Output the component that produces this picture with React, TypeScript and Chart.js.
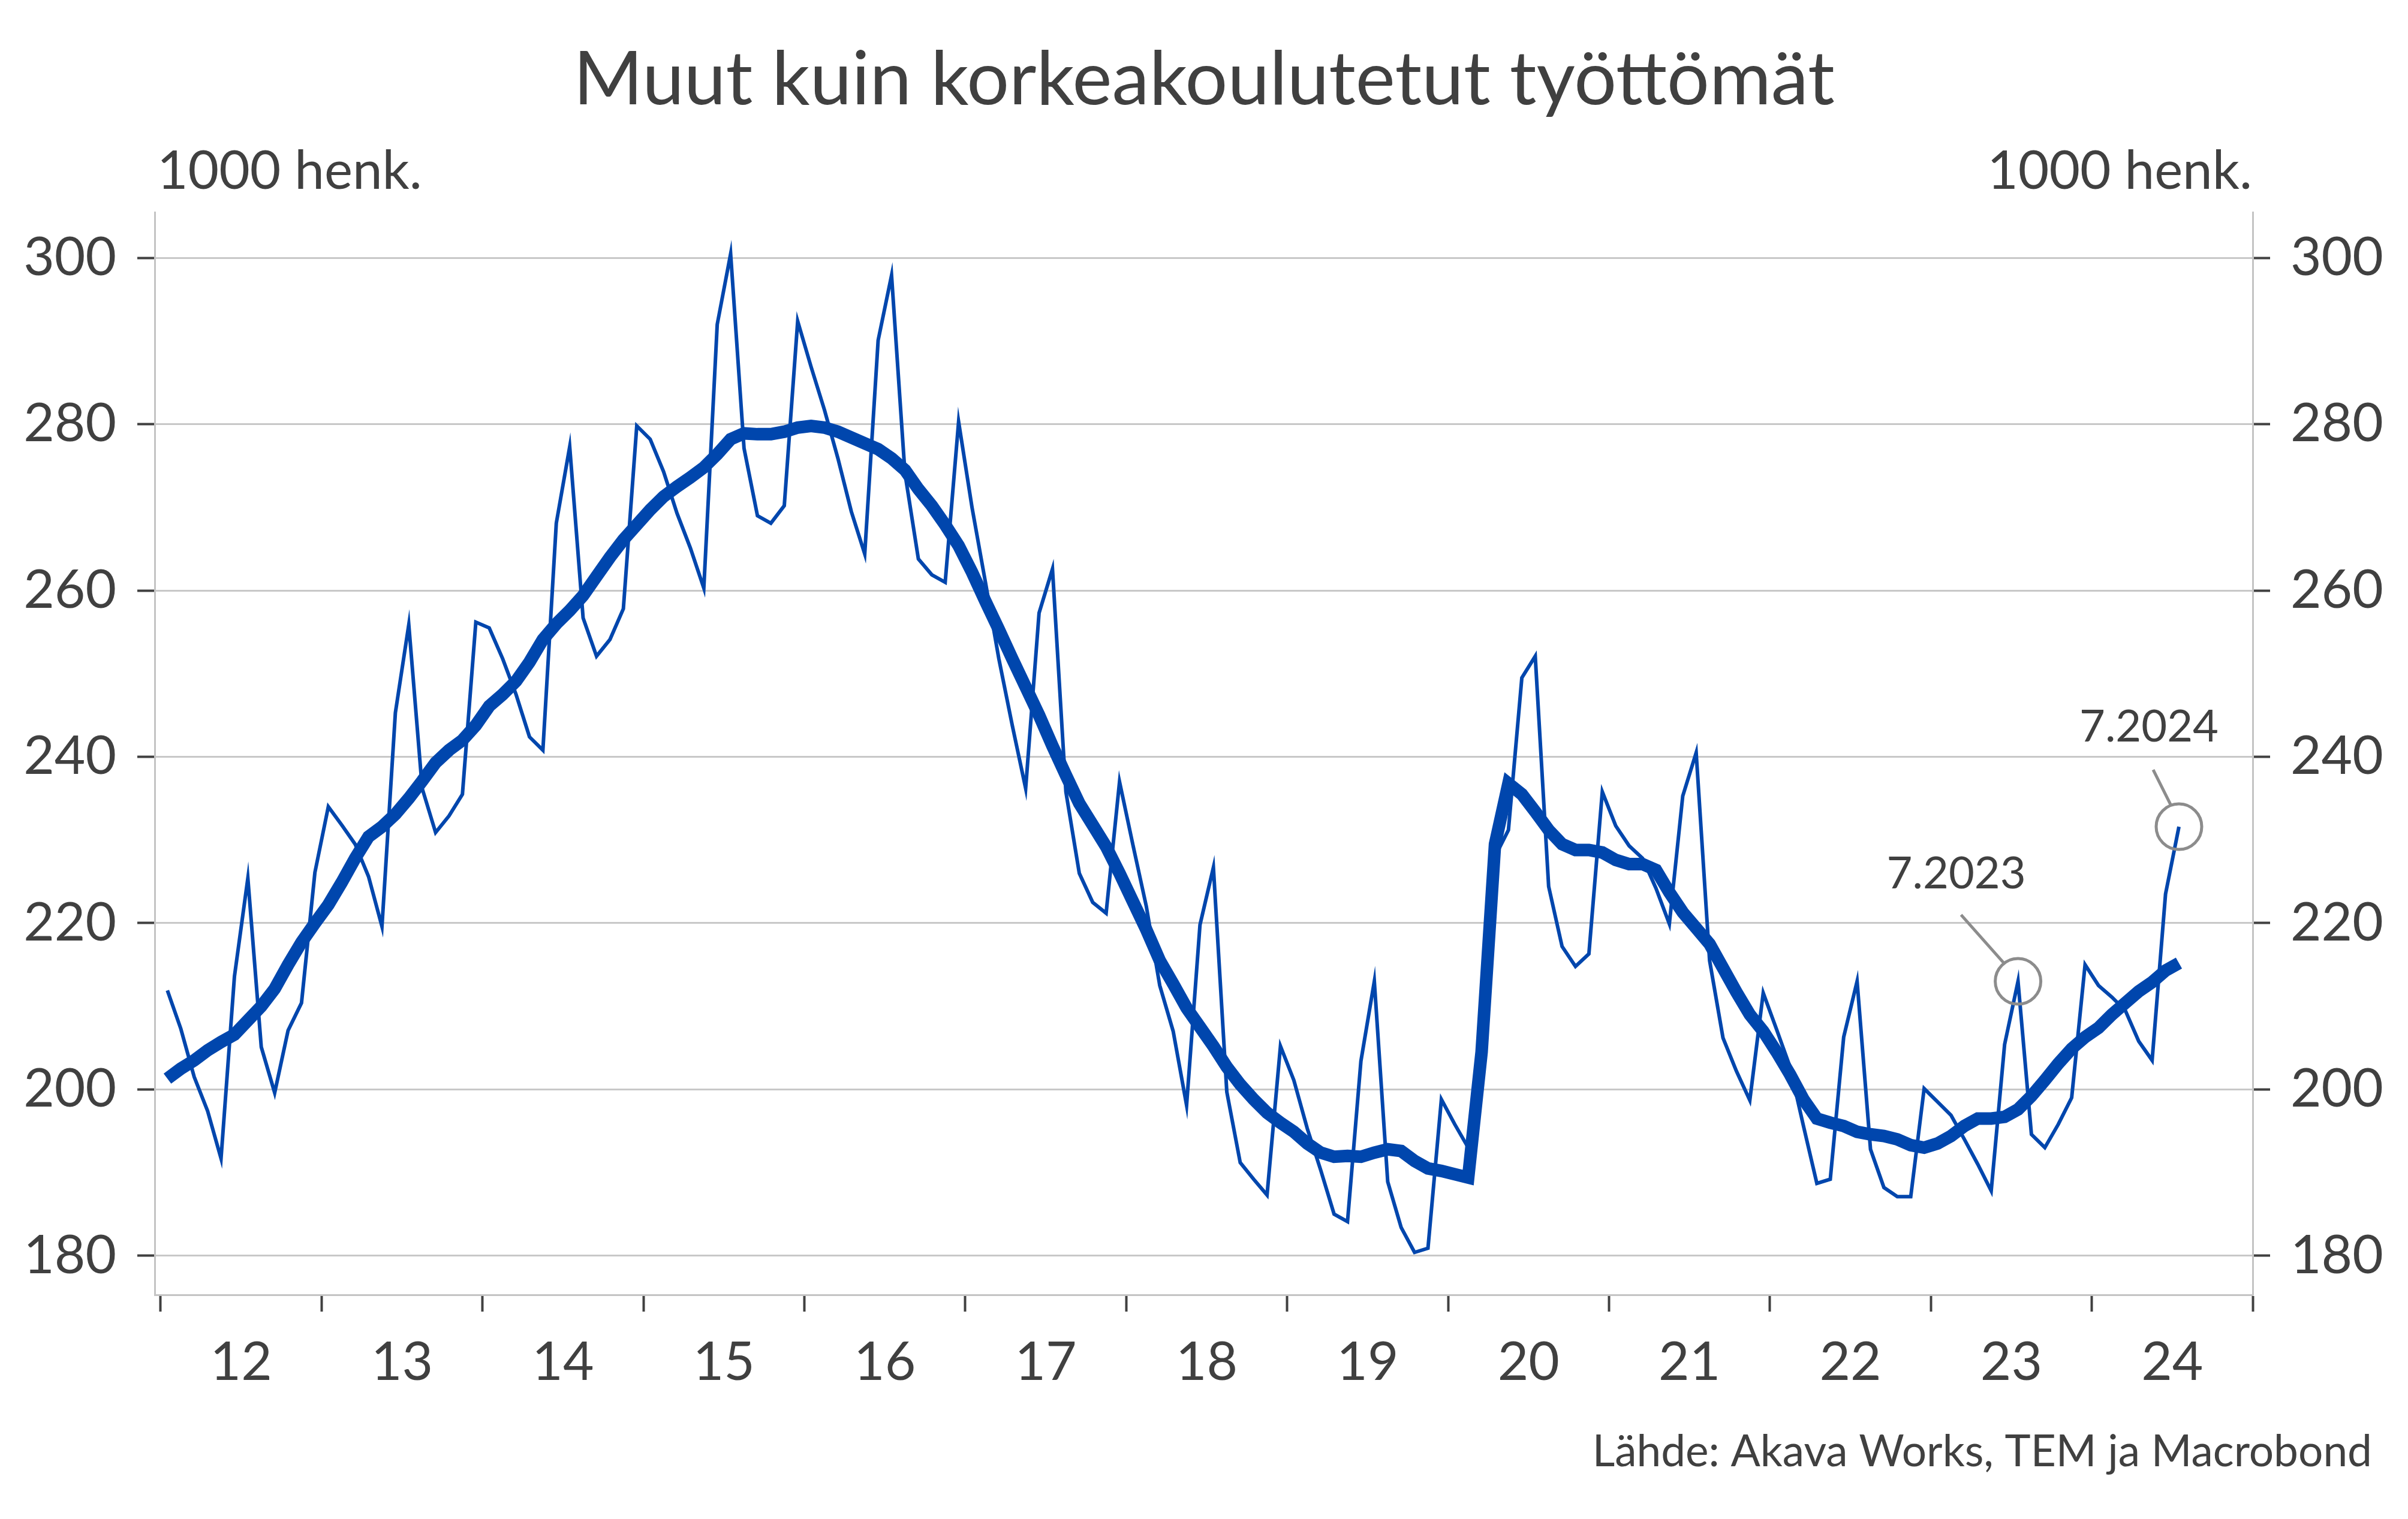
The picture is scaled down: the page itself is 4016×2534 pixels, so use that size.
import React, { useEffect, useRef } from 'react';
import { Chart, registerables } from 'chart.js';

Chart.register(...registerables);

const W = 4016;
const H = 2534;

const TITLE = 'Muut kuin korkeakoulutetut työttömät';
const UNIT_LABEL = '1000 henk.';
const SOURCE = 'Lähde: Akava Works, TEM ja Macrobond';

const YEAR_LABELS = ['12', '13', '14', '15', '16', '17', '18', '19', '20', '21', '22', '23', '24'];
const Y_TICKS = [180, 200, 220, 240, 260, 280, 300];

// Monthly values, 1/2012 - 7/2024 (1000 persons)
const MONTHLY = [
  211.9, 207.3, 201.5, 197.4, 191.7, 213.6, 225.4, 205.1, 199.6, 207.1, 210.4, 226.1,
  234.0, 231.8, 229.5, 225.6, 219.6, 245.3, 255.9, 236.2, 230.9, 232.9, 235.5, 256.2,
  255.5, 251.8, 247.5, 242.4, 240.8, 268.1, 277.3, 256.7, 252.1, 254.1, 257.8, 279.8,
  278.2, 274.3, 269.3, 265.1, 260.3, 292.0, 300.5, 277.1, 269.0, 268.1, 270.2, 292.4,
  286.9, 281.7, 275.9, 269.5, 264.4, 290.1, 297.9, 274.1, 263.8, 261.9, 261.0, 280.3,
  270.0, 261.0, 251.8, 243.8, 236.2, 257.3, 262.6, 235.8, 226.0, 222.5, 221.2, 237.0,
  229.4, 222.0, 212.5, 207.0, 198.1, 219.8, 226.7, 199.7, 191.2, 189.2, 187.3, 205.2,
  201.1, 195.3, 190.3, 185.0, 184.1, 203.4, 213.0, 188.9, 183.4, 180.4, 180.9, 198.8,
  195.8, 193.0, 204.5, 228.0, 231.2, 249.5, 252.1, 224.4, 217.2, 214.8, 216.3, 235.8,
  231.7, 229.3, 227.8, 224.2, 219.9, 235.3, 240.5, 215.5, 206.2, 202.2, 198.7, 211.6,
  207.2, 202.7, 195.6, 188.7, 189.2, 206.3, 213.0, 192.8, 188.2, 187.1, 187.1, 200.1,
  198.5, 196.9, 194.0, 191.0, 187.8, 205.4, 213.0, 194.6, 193.0, 195.8, 199.0, 215.0,
  212.5, 211.1, 209.5, 205.8, 203.5, 223.5, 231.6,
];

// Trend series
const TREND = [
  201.3, 202.5, 203.5, 204.7, 205.7, 206.6, 208.3, 210.0, 212.1, 215.0, 217.7, 220.0,
  222.2, 224.9, 227.8, 230.4, 231.6, 233.1, 235.0, 237.1, 239.3, 240.8, 242.0, 243.8,
  246.1, 247.5, 249.1, 251.4, 254.1, 256.0, 257.6, 259.4, 261.7, 264.0, 266.1, 267.9,
  269.7, 271.3, 272.5, 273.6, 274.8, 276.4, 278.2, 278.9, 278.8, 278.8, 279.1, 279.6,
  279.8, 279.6, 279.1, 278.4, 277.7, 277.0, 275.9, 274.5, 272.2, 270.2, 267.9, 265.4,
  262.2, 258.7, 255.3, 251.8, 248.4, 245.0, 241.3, 237.8, 234.4, 231.8, 229.2, 226.0,
  222.6, 219.2, 215.5, 212.7, 209.8, 207.5, 205.2, 202.7, 200.6, 198.8, 197.2, 196.0,
  194.9, 193.5, 192.4, 191.9, 192.0, 191.9, 192.4, 192.8, 192.6, 191.4, 190.5, 190.2,
  189.8, 189.4, 204.5, 229.5, 236.8, 235.5, 233.4, 231.2, 229.5, 228.8, 228.8, 228.5,
  227.6, 227.1, 227.1, 226.4, 223.7, 221.3, 219.4, 217.5, 214.6, 211.7, 209.0, 207.0,
  204.5, 201.8, 198.8, 196.5, 196.0, 195.6, 194.9, 194.6, 194.4, 194.0, 193.3, 193.0,
  193.5, 194.4, 195.6, 196.5, 196.5, 196.7, 197.6, 199.2, 201.1, 203.1, 204.9, 206.3,
  207.4, 209.0, 210.4, 211.8, 212.9, 214.3, 215.2,
];

const ANNOTATION_LABELS = ['7.2023', '7.2024'];
const ANNOTATION_INDEX = [138, 150];

const FONT = 'Lato, "Open Sans", sans-serif';
const TEXT = '#404040';
const BLUE = '#0046ad';

export default function App() {
  const ref = useRef<HTMLCanvasElement | null>(null);

  useEffect(() => {
    if (!ref.current) return;

    const annStyle = [
      { leaderFrom: [-95, -111], leaderTo: [-24, -31], label: [-103, -155] },
      { leaderFrom: [-43, -95], leaderTo: [-14, -37], label: [-50, -142] },
    ];

    const textPlugin = {
      id: 'texts',
      afterDraw(chart: any) {
        const ctx = chart.ctx;
        const xs = chart.scales.x;
        const ys = chart.scales.y;
        ctx.save();
        ctx.fillStyle = TEXT;
        ctx.textBaseline = 'alphabetic';
        ctx.font = `125px ${FONT}`;
        ctx.textAlign = 'center';
        ctx.fillText(TITLE, W / 2, 174);
        ctx.font = `89px ${FONT}`;
        ctx.textAlign = 'left';
        ctx.fillText(UNIT_LABEL, 262, 315);
        ctx.textAlign = 'right';
        ctx.fillText(UNIT_LABEL, 3756, 315);
        ctx.font = `73px ${FONT}`;
        ctx.textAlign = 'right';
        ctx.fillText(SOURCE, 3956, 2446);

        ANNOTATION_INDEX.forEach((idx, k) => {
          const cx = xs.getPixelForValue(idx);
          const cy = ys.getPixelForValue(MONTHLY[idx]);
          const st = annStyle[k];
          ctx.strokeStyle = '#8c8c8c';
          ctx.lineWidth = 5;
          ctx.beginPath();
          ctx.arc(cx, cy, 38, 0, Math.PI * 2);
          ctx.stroke();
          ctx.beginPath();
          ctx.moveTo(cx + st.leaderFrom[0], cy + st.leaderFrom[1]);
          ctx.lineTo(cx + st.leaderTo[0], cy + st.leaderTo[1]);
          ctx.stroke();
          ctx.fillStyle = TEXT;
          ctx.font = `74px ${FONT}`;
          ctx.textAlign = 'center';
          ctx.fillText(ANNOTATION_LABELS[k], cx + st.label[0], cy + st.label[1]);
        });
        ctx.restore();
      },
    };

    const tickFont = { family: FONT, size: 89 };

    const chart = new Chart(ref.current, {
      type: 'line',
      data: {
        datasets: [
          {
            label: 'Trendi',
            data: TREND.map((v, i) => ({ x: i, y: v })),
            borderColor: BLUE,
            borderWidth: 21,
            pointRadius: 0,
            tension: 0,
            order: 0,
          },
          {
            label: 'Työttömät',
            data: MONTHLY.map((v, i) => ({ x: i, y: v })),
            borderColor: BLUE,
            borderWidth: 6,
            pointRadius: 0,
            tension: 0,
            order: 1,
          },
        ],
      },
      options: {
        animation: false,
        responsive: false,
        devicePixelRatio: 1,
        layout: { padding: { top: 354, left: 0, right: 0, bottom: 0 } },
        plugins: {
          legend: { display: false },
          tooltip: { enabled: false },
          title: { display: false },
        },
        scales: {
          x: {
            type: 'linear',
            position: 'bottom',
            min: -0.947,
            max: 155.5,
            afterBuildTicks: (scale: any) => {
              const t = [];
              for (let k = 0; k <= 26; k++) t.push({ value: -0.5 + 6 * k });
              scale.ticks = t;
            },
            afterFit: (scale: any) => {
              scale.height = 374;
            },
            ticks: {
              autoSkip: false,
              maxRotation: 0,
              minRotation: 0,
              padding: 32,
              color: TEXT,
              font: tickFont,
              callback: (value: any) => {
                const k = Math.round((Number(value) + 0.5) / 6);
                if (k % 2 === 1) return YEAR_LABELS[(k - 1) / 2] ?? '';
                return '';
              },
            },
            grid: {
              drawOnChartArea: false,
              drawTicks: true,
              tickLength: 28,
              tickWidth: 4,
              tickColor: (ctx: any) => {
                const v = ctx.tick ? ctx.tick.value : 0;
                const k = Math.round((v + 0.5) / 6);
                return k % 2 === 0 ? TEXT : 'rgba(0,0,0,0)';
              },
            },
            border: { color: '#c4c4c4', width: 3 },
          },
          y: {
            type: 'linear',
            position: 'left',
            min: 175.3,
            max: 305.5,
            afterBuildTicks: (scale: any) => {
              scale.ticks = Y_TICKS.map((v) => ({ value: v }));
            },
            afterFit: (scale: any) => {
              scale.width = 258;
            },
            ticks: {
              padding: 35,
              color: TEXT,
              font: tickFont,
            },
            grid: {
              color: '#c8c8c8',
              lineWidth: 3,
              tickLength: 29,
              tickWidth: 4,
              tickColor: TEXT,
            },
            border: { color: '#c4c4c4', width: 3 },
          },
          y2: {
            type: 'linear',
            position: 'right',
            min: 175.3,
            max: 305.5,
            afterBuildTicks: (scale: any) => {
              scale.ticks = Y_TICKS.map((v) => ({ value: v }));
            },
            afterFit: (scale: any) => {
              scale.width = 259;
            },
            ticks: {
              padding: 34,
              color: TEXT,
              font: tickFont,
            },
            grid: {
              drawOnChartArea: false,
              tickLength: 29,
              tickWidth: 4,
              tickColor: TEXT,
            },
            border: { color: '#c4c4c4', width: 3 },
          },
        },
      },
      plugins: [textPlugin],
    } as any);

    return () => {
      chart.destroy();
    };
  }, []);

  return (
    <div style={{ position: 'fixed', left: 0, top: 0, width: W, height: H, background: '#fff' }}>
      <canvas ref={ref} width={W} height={H} style={{ width: W, height: H, display: 'block' }} />
    </div>
  );
}
